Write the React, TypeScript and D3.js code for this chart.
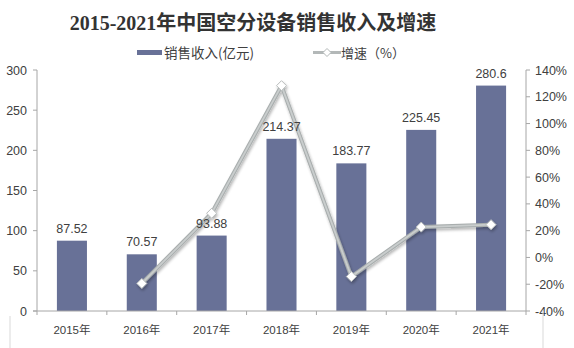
import React from "react";
import * as d3 from "d3";

const categories = ["2015年", "2016年", "2017年", "2018年", "2019年", "2020年", "2021年"];
const revenue = [87.52, 70.57, 93.88, 214.37, 183.77, 225.45, 280.6];
const growth: (number | null)[] = [null, -19.4, 33.0, 128.3, -14.3, 22.7, 24.5];
const leftTicks = [0, 50, 100, 150, 200, 250, 300];
const rightTicks = [-40, -20, 0, 20, 40, 60, 80, 100, 120, 140];

export default function App() {
  const W = 574, H = 348;
  const x0 = 37, x1 = 526, yTop = 70, yBot = 311;
  const x = d3.scaleBand<string>().domain(categories).range([x0, x1]).paddingInner(0.57).paddingOuter(0.285);
  const band = (x1 - x0) / categories.length;
  const yL = d3.scaleLinear().domain([0, 300]).range([yBot, yTop]);
  const yR = d3.scaleLinear().domain([-40, 140]).range([yBot, yTop]);
  const cx = (c: string) => x0 + categories.indexOf(c) * band + band / 2;
  const pts = categories.map((c, i) => ({ c, v: growth[i] })).filter(d => d.v !== null) as { c: string; v: number }[];
  const line = d3.line<{ c: string; v: number }>().x(d => cx(d.c)).y(d => yR(d.v));
  const font = "Arial, 'Liberation Sans', 'Noto Sans CJK SC', sans-serif";
  const cjk = "'Noto Sans CJK SC', sans-serif";
  const axisColor = "#a6a6a6";
  const textColor = "#404040";
  const barColor = "#687197";
  return (
    <svg width={W} height={H} style={{ position: "absolute", left: 0, top: 0, background: "#fff" }}>
      <defs>
        <filter id="sh" x="-10%" y="-10%" width="120%" height="120%">
          <feGaussianBlur in="SourceAlpha" stdDeviation="1.5" />
          <feOffset dx="1" dy="1.5" result="b" />
          <feComponentTransfer><feFuncA type="linear" slope="0.3" /></feComponentTransfer>
          <feMerge><feMergeNode /><feMergeNode in="SourceGraphic" /></feMerge>
        </filter>
      </defs>
      <text x={253} y={30} textAnchor="middle" fontFamily="'Liberation Serif', 'Noto Sans CJK SC', serif" fontWeight="bold" fontSize={20} fill="#333">
        2015-2021年中国空分设备销售收入及增速
      </text>
      {/* legend */}
      <rect x={137} y={50} width={25} height={5} fill={barColor} />
      <text x={164} y={58} fontFamily={cjk} fontSize={13.5} fill={textColor}>销售收入(亿元)</text>
      <line x1={313} y1={52.5} x2={341} y2={52.5} stroke="#b3b8b8" strokeWidth={3} />
      <path d="M327,48.5 L331,52.5 L327,56.5 L323,52.5 Z" fill="#fff" stroke="#b3b8b8" strokeWidth={1} />
      <text x={341} y={58} fontFamily={cjk} fontSize={13} fill={textColor}>增速（%）</text>
      {/* bars */}
      {categories.map((c, i) => (
        <rect key={c} x={x(c)} y={yL(revenue[i])} width={x.bandwidth()} height={yBot - yL(revenue[i])} fill={barColor} />
      ))}
      {/* axes */}
      <line x1={x0} y1={yTop} x2={x0} y2={yBot} stroke={axisColor} />
      <line x1={x1} y1={yTop} x2={x1} y2={yBot} stroke={axisColor} />
      <line x1={x0 - 4} y1={yBot} x2={x1} y2={yBot} stroke={axisColor} />
      {leftTicks.map(t => (
        <g key={"l" + t}>
          <line x1={x0 - 4} x2={x0} y1={yL(t)} y2={yL(t)} stroke={axisColor} />
          <text x={27} y={yL(t) + 4.5} textAnchor="end" fontFamily={font} fontSize={12.5} fill={textColor}>{t}</text>
        </g>
      ))}
      {rightTicks.map(t => (
        <g key={"r" + t}>
          <line x1={x1} x2={x1 + 4} y1={yR(t)} y2={yR(t)} stroke={axisColor} />
          <text x={535} y={yR(t) + 4.5} textAnchor="start" fontFamily={font} fontSize={12.5} fill={textColor}>{t}%</text>
        </g>
      ))}
      {categories.map((c, i) => (
        <g key={"x" + c}>
          <line x1={x0 + i * band} x2={x0 + i * band} y1={yBot} y2={yBot + 4} stroke={axisColor} />
          <text x={cx(c)} y={334} textAnchor="middle" fontFamily={font} fontSize={11.5} fill={textColor}>{c}</text>
        </g>
      ))}
      <line x1={x1} x2={x1} y1={yBot} y2={yBot + 4} stroke={axisColor} />
      {/* frame hints */}
      <line x1={10} x2={10} y1={316} y2={348} stroke="#d9d9d9" />
      <line x1={543} x2={543} y1={311} y2={348} stroke="#d9d9d9" />
      {/* growth line */}
      <g filter="url(#sh)">
        <path d={line(pts) as string} fill="none" stroke="#a9aeae" strokeWidth={4} strokeLinejoin="round" />
        <path d={line(pts) as string} fill="none" stroke="#c9cdcd" strokeWidth={1.8} strokeLinejoin="round" />
        {pts.map(d => (
          <path key={d.c} d={`M${cx(d.c)},${yR(d.v) - 5} L${cx(d.c) + 5},${yR(d.v)} L${cx(d.c)},${yR(d.v) + 5} L${cx(d.c) - 5},${yR(d.v)} Z`} fill="#fff" stroke="#b8bcbc" strokeWidth={1} />
        ))}
      </g>
      {/* data labels on top */}
      {categories.map((c, i) => (
        <text key={"v" + c} x={(x(c) as number) + x.bandwidth() / 2} y={yL(revenue[i]) - 8} textAnchor="middle" fontFamily={font} fontSize={12.5} fill={textColor}>
          {revenue[i]}
        </text>
      ))}
    </svg>
  );
}
